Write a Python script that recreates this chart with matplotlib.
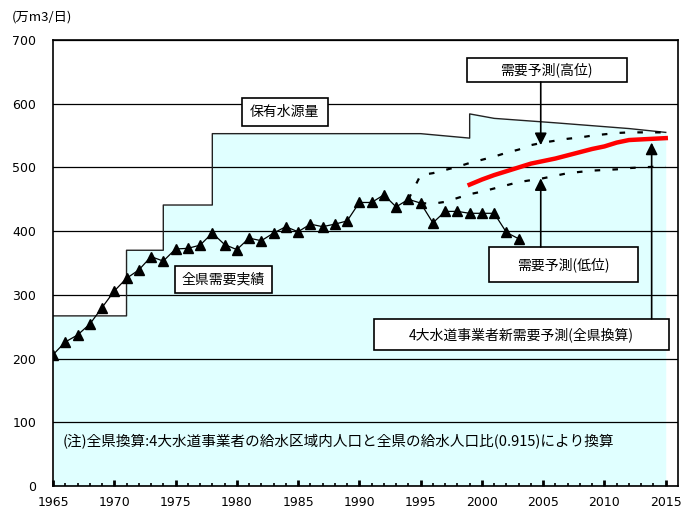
import numpy as np
import matplotlib
matplotlib.use("Agg")
import matplotlib.pyplot as plt
from matplotlib.patches import Rectangle

plt.rcParams['font.family'] = ['Noto Sans CJK JP', 'DejaVu Sans']

# --- data (万m3/日) ---
# 保有水源量 (capacity), polyline with step jumps
cap_years = [1965, 1971, 1971, 1974, 1974, 1978, 1978, 1995, 1999, 1999, 2001, 2006, 2012, 2015]
cap_vals = [267, 267, 370, 370, 441, 441, 553, 553, 546, 584, 577, 570, 561, 555]

# 全県需要実績 (actual demand)
act_years = list(range(1965, 2004))
act_vals = [206, 226, 237, 254, 280, 306, 326, 339, 360, 353,
            372, 373, 378, 397, 379, 371, 389, 385, 397, 407,
            399, 411, 407, 411, 416, 445, 445, 457, 438, 450,
            444, 413, 431, 431, 428, 428, 428, 398, 388]

# 需要予測(高位) / (低位)
high_years = list(range(1994, 2016))
high_vals = [450, 488, 491, 496, 501, 507, 512, 517, 523, 528, 535,
             539, 542, 545, 547, 550, 552, 554, 555, 555, 555, 555]
low_years = list(range(1995, 2016))
low_vals = [444, 443, 446, 452, 458, 462, 467, 472, 477, 480, 483,
            487, 491, 493, 495, 496, 497, 499, 500, 501, 501]

# 4大水道事業者新需要予測(全県換算)
new_years = list(range(1999, 2016))
new_vals = [473, 481, 488, 494, 500, 506, 510, 514, 519, 524,
            529, 533, 539, 543, 544, 545, 546]

yticks = [0, 100, 200, 300, 400, 500, 600, 700]
xticks = list(range(1965, 2016, 5))

fig = plt.figure(figsize=(6.81, 5.09), dpi=100)
ax = fig.add_axes([53 / 681, 1 - 486 / 509, 625 / 681, 446 / 509])

ax.fill_between(cap_years, 0, cap_vals, color='#e0ffff', lw=0, zorder=0.3)
ax.plot(cap_years, cap_vals, color='#222222', lw=1, zorder=2)

ax.plot(act_years, act_vals, color='k', lw=0.9, marker='^', ms=7,
        markerfacecolor='k', markeredgecolor='k', zorder=3)
ax.plot(high_years, high_vals, color='k', lw=1.6, ls=(0, (2.5, 5.5)), zorder=3)
ax.plot(low_years, low_vals, color='k', lw=1.6, ls=(0, (2.5, 5.5)), zorder=3)
ax.plot(new_years, new_vals, color='#ff0000', lw=3.2, zorder=4)

ax.set_xlim(1965, 2016)
ax.set_ylim(0, 700)
ax.set_yticks(yticks)
ax.set_xticks(xticks)
ax.set_xticks(range(1965, 2016), minor=True)
ax.set_axisbelow(True)
ax.yaxis.grid(True, color='k', lw=0.9)
ax.tick_params(axis='y', length=0, pad=12, labelsize=9)
ax.tick_params(axis='x', which='major', direction='in', length=4.5, width=2,
               pad=7, labelsize=9)
ax.tick_params(axis='x', which='minor', direction='in', length=2.5, width=1.2)
for lbl in ax.get_xticklabels() + ax.get_yticklabels():
    lbl.set_family('DejaVu Sans')
for s in ax.spines.values():
    s.set_linewidth(1.2)
    s.set_color('k')


def box(cx, cy, w, h, label):
    ax.add_patch(Rectangle((cx - w / 2, cy - h / 2), w, h, facecolor='white',
                           edgecolor='k', lw=1.2, zorder=5))
    ax.text(cx, cy, label, ha='center', va='center', fontsize=10, zorder=6)


box(1983.9, 587, 7.0, 44, '保有水源量')
box(1978.9, 324, 7.9, 42, '全県需要実績')
box(2005.3, 653, 13.05, 38, '需要予測(高位)')
box(2006.65, 347.5, 12.1, 55, '需要予測(低位)')
box(2003.2, 238, 24.06, 49, '4大水道事業者新需要予測(全県換算)')

arrow = dict(arrowstyle='-|>', mutation_scale=18, lw=1.2, color='k',
             shrinkA=0, shrinkB=0)
ax.annotate('', xy=(2004.8, 535), xytext=(2004.8, 634), arrowprops=arrow, zorder=6)
ax.annotate('', xy=(2004.8, 483), xytext=(2004.8, 375), arrowprops=arrow, zorder=6)
ax.annotate('', xy=(2013.85, 539), xytext=(2013.85, 262.5), arrowprops=arrow, zorder=6)

ax.text(1965.8, 69, '(注)全県換算:4大水道事業者の給水区域内人口と全県の給水人口比(0.915)により換算',
        ha='left', va='center', fontsize=10.5, zorder=6)

fig.text(12 / 681, 1 - 17 / 509, '(万m3/日)', ha='left', va='center', fontsize=9.5)

fig.savefig('out.png', dpi=100)
